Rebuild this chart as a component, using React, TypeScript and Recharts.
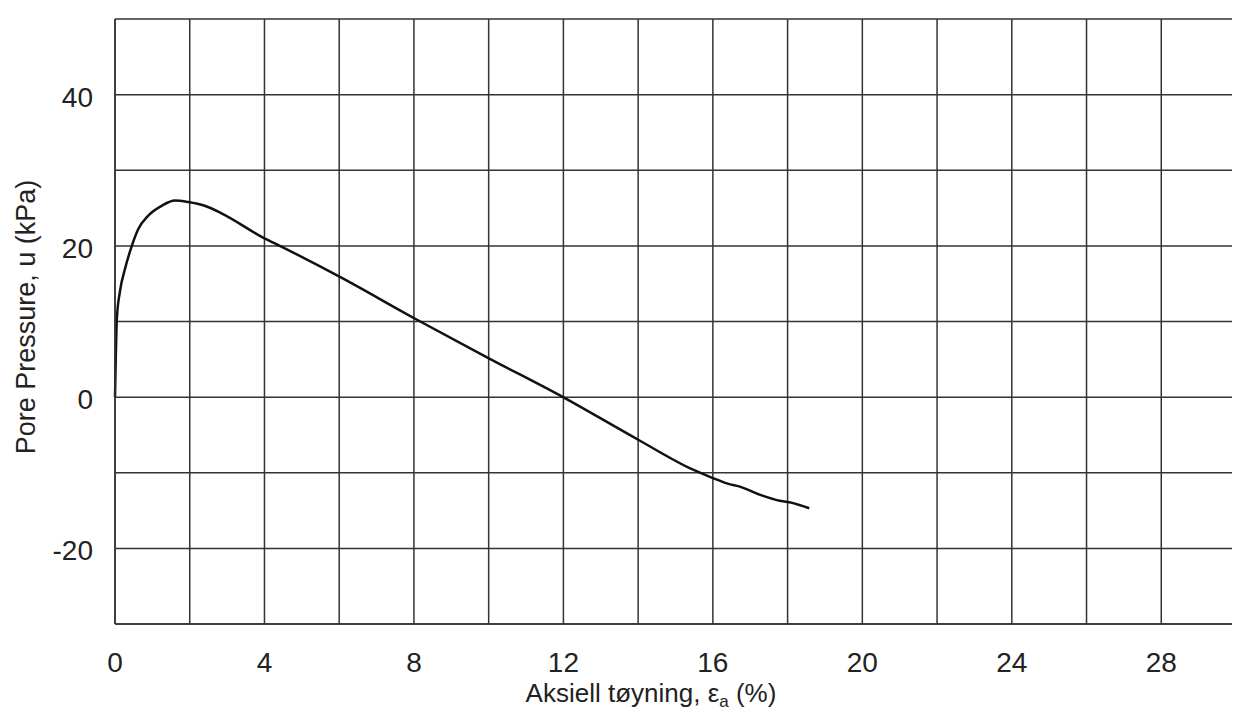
import React from 'react';
import { LineChart, Line, XAxis, YAxis, CartesianGrid } from 'recharts';

const strain = [0, 0.02, 0.05, 0.13, 0.27, 0.45, 0.62, 0.89, 1.25, 1.6, 1.96, 2.4, 2.85, 4.0, 4.33, 6.02, 8.02, 9.98, 11.99, 13.99, 15.47, 16.0, 16.44, 16.7, 17.25, 17.78, 18.05, 18.58];
const pore = [0, 5, 10.4, 13.9, 17, 20, 22.2, 24, 25.3, 26.0, 25.8, 25.3, 24.3, 21.0, 20.2, 15.9, 10.4, 5.2, 0, -5.6, -9.6, -10.7, -11.5, -11.8, -12.9, -13.7, -13.9, -14.7];

const xTicks = [0, 2, 4, 6, 8, 10, 12, 14, 16, 18, 20, 22, 24, 26, 28, 30];
const xLabelTicks = [0, 4, 8, 12, 16, 20, 24, 28];
const yTicks = [-30, -20, -10, 0, 10, 20, 30, 40, 50];
const yLabelTicks = [-20, 0, 20, 40];

const data = strain.map((x, i) => ({ x, u: pore[i] }));

const FONT = '"Liberation Sans", Arial, Helvetica, sans-serif';
const TEXT = '#222';
const GRID = '#333';

const XTick = (props: any) => {
  const v = props.payload?.value;
  if (!xLabelTicks.includes(v)) return <g />;
  return (
    <text x={props.x} y={props.y} dy={20} textAnchor="middle" fontSize={28} fill={TEXT} fontFamily={FONT}>
      {String(v)}
    </text>
  );
};

const YTick = (props: any) => {
  const v = props.payload?.value;
  if (!yLabelTicks.includes(v)) return <g />;
  return (
    <text x={props.x} y={props.y} dy={12} textAnchor="end" fontSize={28} fill={TEXT} fontFamily={FONT}>
      {String(v)}
    </text>
  );
};

export default function App() {
  return (
    <div style={{ width: 1232, height: 711, background: '#fff' }}>
      <LineChart
        width={1232}
        height={711}
        data={data}
        margin={{ top: 11, right: 4, left: 0, bottom: 0 }}
        style={{ fontFamily: FONT }}
      >
        <CartesianGrid stroke={GRID} strokeWidth={1.5} strokeOpacity={1} />
        <XAxis
          type="number"
          dataKey="x"
          domain={[0, 30]}
          ticks={xTicks}
          interval={0}
          tickLine={false}
          tickSize={0}
          tickMargin={28}
          axisLine={{ stroke: GRID, strokeWidth: 1.5 }}
          height={95}
          tick={XTick}
          label={{
            content: () => (
              <text x={643} y={694} textAnchor="middle" fontSize={26} fill={TEXT} fontFamily={FONT}>
                <tspan>Aksiell tøyning, ε</tspan>
                <tspan fontSize={17} dy={5}>a</tspan>
                <tspan dy={-5}> (%)</tspan>
              </text>
            ),
          }}
        />
        <YAxis
          type="number"
          domain={[-30, 50]}
          ticks={yTicks}
          interval={0}
          tickLine={false}
          tickSize={0}
          tickMargin={22}
          axisLine={{ stroke: GRID, strokeWidth: 1.5 }}
          width={107}
          tick={YTick}
          label={{
            content: () => (
              <text
                x={18}
                y={309}
                textAnchor="middle"
                dominantBaseline="central"
                transform="rotate(-90 18 309)"
                fontSize={27}
                fill={TEXT}
                fontFamily={FONT}
              >
                Pore Pressure, u (kPa)
              </text>
            ),
          }}
        />
        <Line
          type="monotone"
          dataKey="u"
          stroke="#111"
          strokeWidth={2.5}
          dot={false}
          isAnimationActive={false}
        />
      </LineChart>
    </div>
  );
}
